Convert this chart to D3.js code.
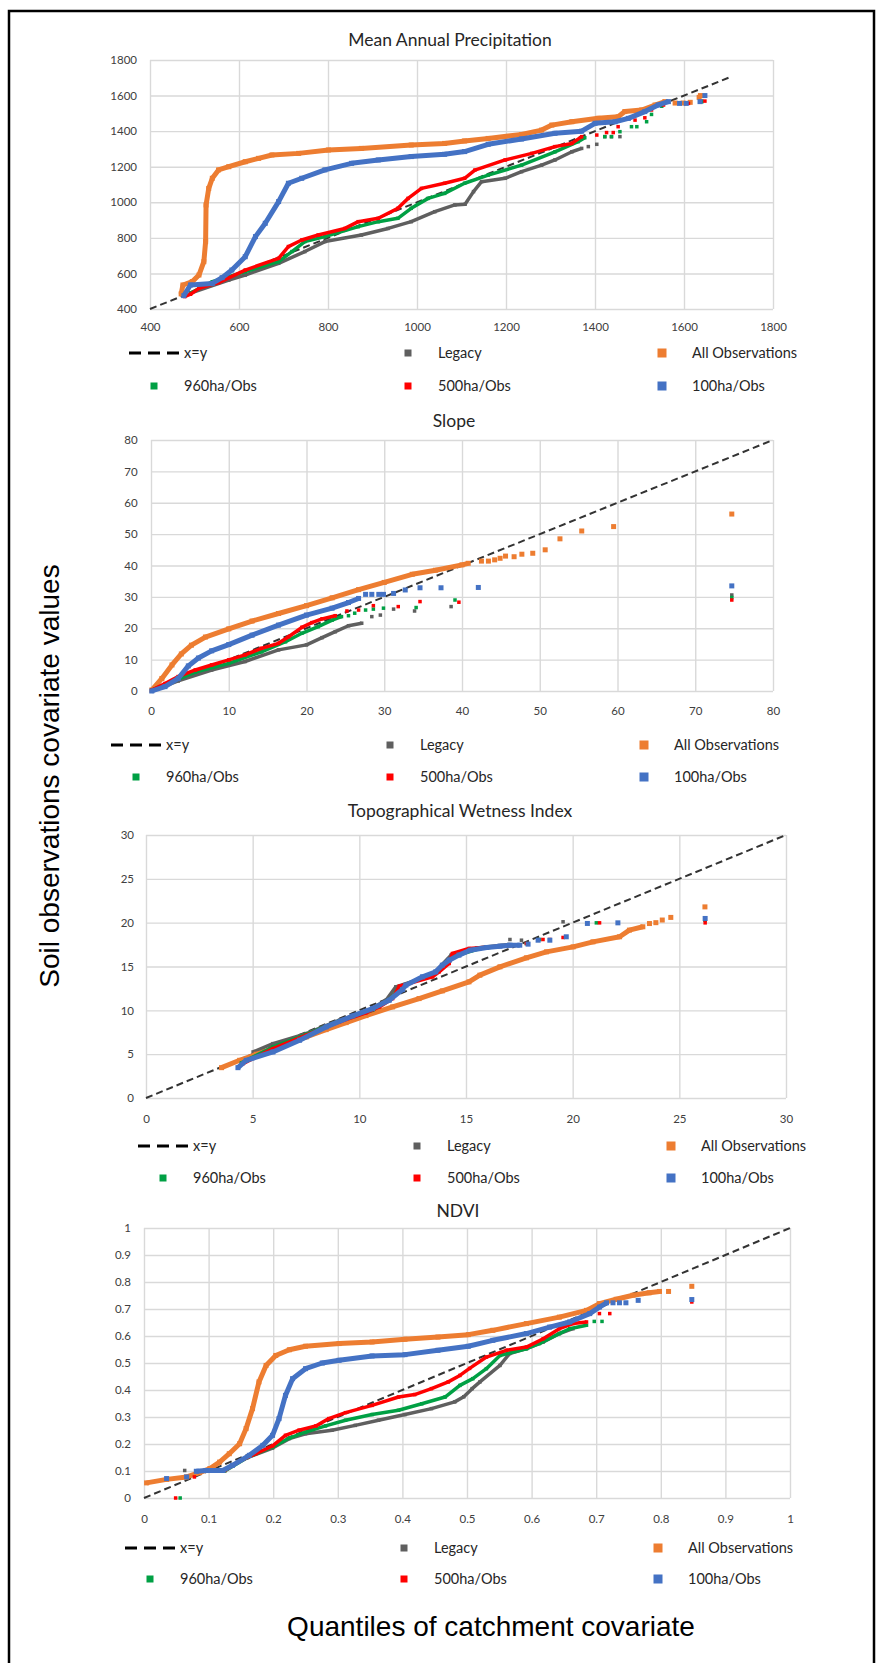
<!DOCTYPE html>
<html>
<head>
<meta charset="utf-8">
<script src="https://cdn.jsdelivr.net/npm/d3@7/dist/d3.min.js"></script>
<style>
  body { margin: 0; background: #fff; }
</style>
</head>
<body>
<svg id="chart" width="877" height="1663"></svg>
<script>
// legend / series order (Excel series order, later ones drawn on top)
var seriesNames  = ["x=y", "Legacy", "All Observations", "960ha/Obs", "500ha/Obs", "100ha/Obs"];

// ---------- Mean Annual Precipitation ----------
var precipTicks = [400, 600, 800, 1000, 1200, 1400, 1600, 1800];
var precipXY = [[400, 400], [1700, 1700]];
var precipLegacy = [[491,490],[577,563],[614,591],[689,657],[748,723],[793,779],[875,816],[935,853],[987,891],[1040,947],[1085,985],[1108,989],[1127,1060],[1145,1116],[1198,1135],[1235,1172],[1280,1209],[1310,1238],[1348,1284],[1370,1303]];
var precipLegacyTail = [[1385,1313],[1404,1326],[1422,1369],[1437,1369],[1456,1369],[1640,1570]];
var precipAll = [[470,485],[474,535],[495,554],[510,591],[521,666],[525,779],[526,985],[532,1078],[540,1135],[554,1182],[577,1200],[614,1228],[644,1247],[674,1266],[734,1275],[801,1294],[875,1303],[987,1322],[1062,1331],[1107,1345],[1160,1359],[1235,1381],[1280,1406],[1303,1434],[1348,1453],[1407,1472],[1452,1481],[1467,1510],[1505,1519],[1535,1547],[1557,1566]];
var precipAllTail = [[1580,1558],[1598,1558],[1614,1562],[1634,1590],[1637,1600]];
var precip960 = [[491,490],[540,553],[614,610],[689,666],[719,723],[748,779],[793,807],[868,863],[913,891],[957,910],[987,966],[1025,1022],[1062,1050],[1107,1107],[1160,1153],[1235,1209],[1310,1284],[1362,1341],[1377,1363]];
var precip960Tail = [[1422,1369],[1437,1369],[1456,1397],[1482,1425],[1494,1425],[1516,1453],[1527,1494],[1550,1540],[1640,1565]];
var precip500 = [[478,470],[491,483],[510,516],[554,548],[614,619],[689,685],[711,751],[741,788],[778,816],[838,853],[868,891],[913,910],[957,966],[980,1022],[1010,1078],[1062,1107],[1107,1135],[1130,1181],[1198,1238],[1258,1275],[1310,1313],[1348,1331],[1370,1369]];
var precip500Tail = [[1404,1378],[1426,1392],[1441,1392],[1452,1425],[1490,1462],[1512,1475],[1527,1519],[1554,1547],[1610,1556],[1647,1569]];
var precip100 = [[476,475],[491,535],[540,544],[562,576],[584,619],[614,694],[637,807],[659,882],[689,1004],[711,1107],[741,1135],[793,1182],[853,1219],[913,1238],[987,1257],[1062,1270],[1107,1285],[1160,1326],[1235,1356],[1310,1388],[1370,1400],[1400,1444],[1445,1453],[1475,1472],[1512,1510],[1542,1547],[1565,1566]];
var precip100Tail = [[1590,1556],[1605,1556],[1636,1566],[1647,1600]];

// ---------- Slope ----------
var slopeTicks = [0, 10, 20, 30, 40, 50, 60, 70, 80];
var slopeXY = [[0, 0], [80, 80]];
var slopeLegacy = [[0.1,0],[3.5,3.2],[7.8,6.7],[12.1,9.4],[16.4,13.1],[20,14.7],[22,17],[23.7,18.9],[25.4,20.8],[27.1,21.6]];
var slopeLegacyTail = [[28.4,23.7],[29.5,24.2],[31.2,26.1],[33.9,25.5],[38.6,26.9],[74.7,30.6]];
var slopeAll = [[0.1,0.3],[1.4,4],[2.7,8.3],[3.9,11.8],[5.2,14.6],[7,17.2],[10,19.8],[13,22.3],[16.4,24.7],[20,27.2],[23.3,29.7],[26.7,32.3],[30,34.6],[33.6,37.2],[36.6,38.5],[40,40.2],[40.8,40.7]];
var slopeAllTail = [[42.5,41.4],[43.4,41.4],[44.2,41.8],[44.9,42.3],[45.6,43],[46.7,42.8],[47.7,43.6],[49.1,43.9],[50.7,45],[52.6,48.5],[55.4,51],[59.5,52.4],[74.7,56.4]];
var slope960 = [[0.1,0.3],[2.7,3],[5.7,6],[10,8.8],[14.2,12.5],[17.3,15.7],[19.4,18.4],[21.5,20.5],[23.3,22.6],[24.5,23.7]];
var slope960Tail = [[25.4,24],[26.2,24.8],[27.6,25.8],[28.6,26.1],[29.9,26.4],[34.1,26.6],[39.1,29],[74.7,29.8]];
var slope500 = [[0.1,0.3],[1.8,2.4],[3.5,4.6],[5.7,6.7],[7.8,8.3],[10,9.9],[12.1,11.5],[14.2,13.6],[16.4,15.2],[17.7,17.3],[19.4,20.3],[20.7,21.8],[22,23],[23.7,24]];
var slope500Tail = [[25.2,25.5],[26.7,25.8],[28.6,27.2],[31.8,26.9],[34.6,28.5],[39.6,28.3],[74.7,29]];
var slope100 = [[0.1,0],[1.8,1.4],[3.5,4],[4.8,8],[6.1,10.5],[7.8,12.8],[10,14.8],[13,17.8],[16.4,21],[20,24.2],[23.3,26.4],[25.4,28.2],[26.7,29.5]];
var slope100Tail = [[27.6,30.8],[28.4,30.8],[29.3,30.8],[29.9,30.8],[31.2,31.1],[32.7,32.2],[34.6,32.9],[37.3,32.9],[42.1,33],[74.7,33.5]];

// ---------- Topographical Wetness Index ----------
var twiTicks = [0, 5, 10, 15, 20, 25, 30];
var twiXY = [[0, 0], [30, 30]];
var twiLegacy = [[5.02,5.25],[5.95,6.2],[7.51,7.35],[9.07,8.87],[10.31,9.82],[11.25,11.15],[11.71,12.68],[13.4,14],[14.3,16.3],[15.5,17.1],[17,17.5]];
var twiLegacyTail = [[17.06,18.08],[17.6,18],[19.55,20.1],[26.21,20.3]];
var twiAll = [[3.54,3.46],[4.39,4.3],[5.17,4.99],[5.95,5.63],[6.73,6.28],[7.51,6.97],[8.44,7.8],[9.38,8.6],[10.31,9.4],[11.56,10.39],[12.8,11.34],[13.89,12.22],[15.14,13.25],[15.65,14.01],[16.59,14.96],[17.83,15.99],[18.77,16.67],[20.02,17.24],[20.95,17.81],[22.2,18.39],[22.66,19.15],[23.29,19.53]];
var twiAllTail = [[23.6,19.9],[23.9,20],[24.2,20.3],[24.6,20.6],[26.2,21.8]];
var twi960 = [[4.47,4],[5.95,5.82],[7.51,7.27],[9.07,8.79],[10.62,10.01],[11.56,11.53],[11.87,12.68],[13.43,14.12],[14.13,15.34],[14.36,16.1],[15.65,17.05],[17.06,17.43]];
var twi960Tail = [[17.83,17.62],[18.46,18.08],[21.11,19.98],[26.21,20.29]];
var twi500 = [[4.55,3.92],[5.95,5.63],[7.51,7.16],[9.07,8.68],[10.31,9.71],[10.94,10.39],[11.56,11.34],[11.87,12.75],[13.43,13.82],[13.74,14.39],[14.21,15.34],[14.36,16.48],[15.14,17.05],[16.28,17.24],[17.22,17.43]];
var twi500Tail = [[17.83,17.62],[18.61,18.08],[18.93,18.08],[19.55,18.31],[21.26,19.98],[26.21,19.98]];
var twi100 = [[4.31,3.46],[4.7,4.3],[5.95,5.25],[7.2,6.59],[8.44,8.11],[9.69,9.36],[10.62,10.2],[11.4,11.15],[12.02,12.37],[12.18,12.87],[12.96,13.82],[13.58,14.39],[13.89,15.15],[14.21,15.72],[14.67,16.3],[15.19,16.86],[15.97,17.17],[16.59,17.32],[17.06,17.43],[17.52,17.43]];
var twi100Tail = [[17.91,17.55],[18.38,18],[18.93,18],[19.7,18.39],[20.69,19.91],[22.12,19.98],[26.21,20.48]];

// ---------- NDVI ----------
var ndviTicks = [0, 0.1, 0.2, 0.3, 0.4, 0.5, 0.6, 0.7, 0.8, 0.9, 1];
var ndviXY = [[0, 0], [1, 1]];
var ndviLegacy = [[0.12,0.1],[0.16,0.15],[0.199,0.185],[0.225,0.22],[0.25,0.238],[0.291,0.251],[0.327,0.269],[0.363,0.288],[0.404,0.309],[0.445,0.331],[0.481,0.356],[0.495,0.375],[0.508,0.405],[0.52,0.43],[0.551,0.491],[0.566,0.535],[0.592,0.553],[0.618,0.578],[0.643,0.609],[0.664,0.627]];
var ndviLegacyTail = [[0.063,0.102]];
var ndviAll = [[0.004,0.056],[0.035,0.069],[0.066,0.078],[0.086,0.094],[0.102,0.109],[0.117,0.133],[0.132,0.164],[0.148,0.201],[0.158,0.257],[0.168,0.331],[0.178,0.43],[0.189,0.491],[0.204,0.528],[0.225,0.549],[0.25,0.562],[0.302,0.572],[0.353,0.578],[0.404,0.588],[0.455,0.596],[0.502,0.605],[0.54,0.621],[0.592,0.646],[0.643,0.67],[0.685,0.695],[0.705,0.72],[0.731,0.736],[0.757,0.751],[0.782,0.76],[0.798,0.765]];
var ndviAllTail = [[0.812,0.765],[0.848,0.784]];
var ndvi960 = [[0.125,0.1],[0.16,0.15],[0.199,0.189],[0.225,0.222],[0.25,0.244],[0.281,0.267],[0.312,0.288],[0.353,0.309],[0.394,0.325],[0.43,0.349],[0.466,0.374],[0.489,0.417],[0.509,0.442],[0.53,0.479],[0.551,0.528],[0.592,0.553],[0.612,0.572],[0.643,0.609],[0.659,0.627],[0.685,0.64]];
var ndvi960Tail = [[0.056,0],[0.697,0.654],[0.709,0.654]];
var ndvi500 = [[0.125,0.102],[0.148,0.136],[0.173,0.164],[0.199,0.193],[0.219,0.232],[0.24,0.251],[0.266,0.267],[0.286,0.294],[0.312,0.316],[0.353,0.343],[0.394,0.374],[0.419,0.383],[0.445,0.405],[0.471,0.43],[0.489,0.454],[0.504,0.48],[0.53,0.522],[0.561,0.547],[0.592,0.559],[0.618,0.59],[0.643,0.627],[0.664,0.646],[0.685,0.652]];
var ndvi500Tail = [[0.049,0],[0.078,0.078],[0.705,0.683],[0.721,0.683],[0.848,0.726]];
var ndvi100 = [[0.081,0.099],[0.096,0.102],[0.122,0.102],[0.137,0.121],[0.163,0.158],[0.184,0.195],[0.199,0.232],[0.209,0.294],[0.219,0.38],[0.23,0.442],[0.25,0.479],[0.276,0.5],[0.302,0.51],[0.353,0.526],[0.404,0.531],[0.455,0.547],[0.502,0.562],[0.54,0.584],[0.592,0.609],[0.628,0.633],[0.659,0.652],[0.69,0.683],[0.705,0.707],[0.716,0.723]];
var ndvi100Tail = [[0.035,0.072],[0.066,0.078],[0.726,0.723],[0.736,0.723],[0.746,0.723],[0.765,0.732],[0.848,0.735]];

// ---------- styles ----------
var seriesColors = ["#333333", "#5f5f5f", "#ed7d31", "#00a044", "#ff0000", "#4472c4"];
var markerSize   = [0, 3.5, 5, 3.5, 3.5, 5];
var legendSize   = [0, 7, 9, 7, 7, 9];
var labelFont = "Lato, 'Open Sans', sans-serif";

var svg = d3.select("#chart");

// outer frame
svg.append("rect")
    .attr("x", 9).attr("y", 11)
    .attr("width", 865).attr("height", 1700)
    .attr("fill", "none")
    .attr("stroke", "#000")
    .attr("stroke-width", 2.5);

var panels = [
    {title: "Mean Annual Precipitation", titleX: 450, titleY: 46,
     left: 150, right: 773, top: 60, bottom: 309, domain: [400, 1800], ticks: precipTicks,
     xPad: 14, yPad: 13, legendX: 129, legendY: [358, 391],
     series: [[precipXY, []], [precipLegacy, precipLegacyTail], [precipAll, precipAllTail],
              [precip960, precip960Tail], [precip500, precip500Tail], [precip100, precip100Tail]]},
    {title: "Slope", titleX: 454, titleY: 427,
     left: 151, right: 773, top: 440, bottom: 691, domain: [0, 80], ticks: slopeTicks,
     xPad: 15.5, yPad: 13.4, legendX: 111, legendY: [750, 782],
     series: [[slopeXY, []], [slopeLegacy, slopeLegacyTail], [slopeAll, slopeAllTail],
              [slope960, slope960Tail], [slope500, slope500Tail], [slope100, slope100Tail]]},
    {title: "Topographical Wetness Index", titleX: 460, titleY: 817,
     left: 146, right: 786, top: 835, bottom: 1098, domain: [0, 30], ticks: twiTicks,
     xPad: 16.5, yPad: 12, legendX: 138, legendY: [1151, 1183],
     series: [[twiXY, []], [twiLegacy, twiLegacyTail], [twiAll, twiAllTail],
              [twi960, twi960Tail], [twi500, twi500Tail], [twi100, twi100Tail]]},
    {title: "NDVI", titleX: 458, titleY: 1217,
     left: 144, right: 790, top: 1228, bottom: 1498, domain: [0, 1], ticks: ndviTicks,
     xPad: 16.5, yPad: 13, legendX: 125, legendY: [1553, 1584],
     series: [[ndviXY, []], [ndviLegacy, ndviLegacyTail], [ndviAll, ndviAllTail],
              [ndvi960, ndvi960Tail], [ndvi500, ndvi500Tail], [ndvi100, ndvi100Tail]]}
];

panels.forEach(drawPanel);

function drawPanel(p){
    var x = d3.scaleLinear().domain(p.domain).range([p.left, p.right]);
    var y = d3.scaleLinear().domain(p.domain).range([p.bottom, p.top]);
    var g = svg.append("g");

    // X axis + vertical gridlines
    var gx = g.append("g")
        .attr("transform", "translate(0," + p.bottom + ")")
        .call(d3.axisBottom(x).tickValues(p.ticks).tickFormat(String)
            .tickSize(-(p.bottom - p.top)).tickPadding(p.xPad));
    // Y axis + horizontal gridlines
    var gy = g.append("g")
        .attr("transform", "translate(" + p.left + ",0)")
        .call(d3.axisLeft(y).tickValues(p.ticks).tickFormat(String)
            .tickSize(-(p.right - p.left)).tickPadding(p.yPad));

    [gx, gy].forEach(function(a){
        a.select(".domain").remove();
        a.selectAll(".tick line").attr("stroke", "#d9d9d9").attr("stroke-width", 1.4);
        a.selectAll(".tick text")
            .attr("font-family", labelFont)
            .attr("font-size", "11.5px")
            .attr("fill", "#404040");
    });

    // title
    g.append("text")
        .attr("x", p.titleX).attr("y", p.titleY)
        .attr("text-anchor", "middle")
        .attr("font-family", labelFont)
        .attr("font-size", "17.5px")
        .attr("fill", "#262626")
        .text(p.title);

    var line = d3.line().x(function(d){ return x(d[0]); }).y(function(d){ return y(d[1]); });

    // x=y reference
    g.append("path").datum(p.series[0][0])
        .attr("d", line)
        .attr("fill", "none")
        .attr("stroke", seriesColors[0])
        .attr("stroke-width", 2)
        .attr("stroke-dasharray", "7,4");

    // quantile series
    for (var s = 1; s < p.series.length; s++){
        var dense = p.series[s][0], tail = p.series[s][1];
        var sz = markerSize[s], col = seriesColors[s];
        g.append("path").datum(dense)
            .attr("d", line)
            .attr("fill", "none")
            .attr("stroke", col)
            .attr("stroke-width", sz)
            .attr("stroke-linejoin", "round");
        g.append("g").selectAll("rect")
            .data(dense.concat(tail))
            .enter().append("rect")
            .attr("x", function(d){ return x(d[0]) - sz / 2; })
            .attr("y", function(d){ return y(d[1]) - sz / 2; })
            .attr("width", sz).attr("height", sz)
            .attr("fill", col);
    }

    // legend (3 columns x 2 rows)
    seriesNames.forEach(function(name, i){
        var kx = p.legendX + (i % 3) * 254;
        var by = p.legendY[Math.floor(i / 3)];
        if (i === 0){
            g.append("line")
                .attr("x1", kx).attr("x2", kx + 50)
                .attr("y1", by - 5).attr("y2", by - 5)
                .attr("stroke", "#000").attr("stroke-width", 3)
                .attr("stroke-dasharray", "12,7");
        } else {
            var ls = legendSize[i];
            g.append("rect")
                .attr("x", kx + 25 - ls / 2).attr("y", by - 5 - ls / 2)
                .attr("width", ls).attr("height", ls)
                .attr("fill", seriesColors[i]);
        }
        g.append("text")
            .attr("x", kx + 55).attr("y", by)
            .attr("font-family", labelFont)
            .attr("font-size", "14.5px")
            .attr("fill", "#262626")
            .text(name);
    });
}

// shared axis titles
svg.append("text")
    .attr("transform", "translate(59,776) rotate(-90)")
    .attr("text-anchor", "middle")
    .attr("font-family", "'Liberation Sans', Arial, sans-serif")
    .attr("font-size", "28px")
    .attr("fill", "#000")
    .text("Soil observations covariate values");

svg.append("text")
    .attr("x", 491).attr("y", 1636)
    .attr("text-anchor", "middle")
    .attr("font-family", "'Liberation Sans', Arial, sans-serif")
    .attr("font-size", "28px")
    .attr("fill", "#000")
    .text("Quantiles of catchment covariate");
</script>
</body>
</html>
